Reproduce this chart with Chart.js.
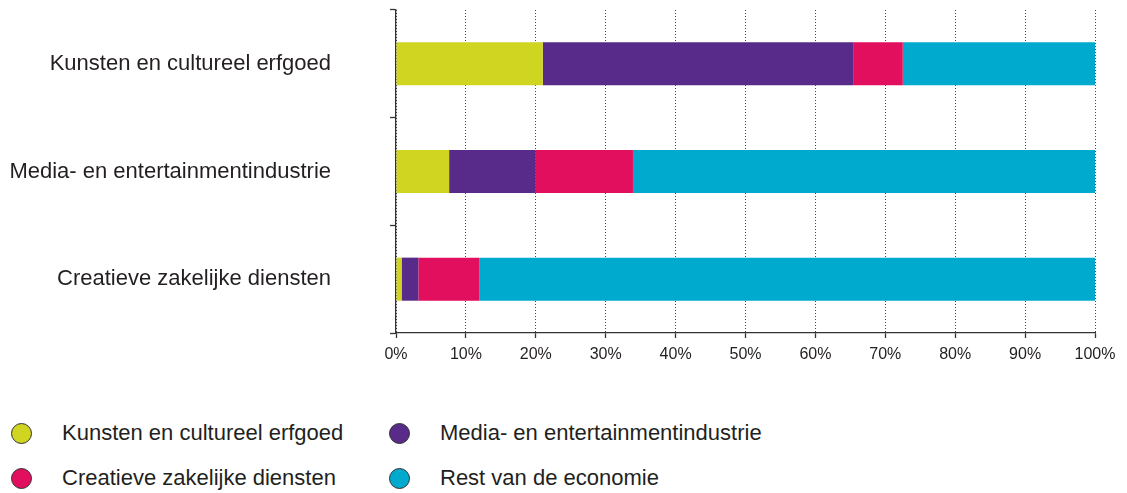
<!DOCTYPE html>
<html>
<head>
<meta charset="utf-8">
<script src="https://cdn.jsdelivr.net/npm/chart.js@4"></script>
<style>
  html, body { margin: 0; padding: 0; background: #fff; }
  body { width: 1127px; height: 493px; position: relative; overflow: hidden; font-family: "Liberation Sans", Arial, sans-serif; color: #231f20; }
  #wrap { position: absolute; left: 0; top: 0; width: 1127px; height: 400px; }
  .legend-item { position: absolute; display: flex; align-items: center; font-size: 22px; }
  .legend-item .dot { width: 21px; height: 21px; border-radius: 50%; border: 1px solid #333; box-sizing: border-box; margin-right: 30px; margin-left: 11px; }
</style>
</head>
<body>
<div id="wrap"><canvas id="chart"></canvas></div>
<div id="legend"></div>
<script>
// Categories and series (percentages per row)
const categories = ['Kunsten en cultureel erfgoed', 'Media- en entertainmentindustrie', 'Creatieve zakelijke diensten'];
const seriesNames = ['Kunsten en cultureel erfgoed', 'Media- en entertainmentindustrie', 'Creatieve zakelijke diensten', 'Rest van de economie'];
const kunsten = [21.0, 7.6, 0.8];
const media = [44.4, 12.4, 2.4];
const creatief = [7.1, 13.9, 8.7];
const rest = [27.5, 66.1, 88.1];
const colors = ['#cfd520', '#582a8a', '#e20e5e', '#00a9ce'];
const xTicks = [0, 10, 20, 30, 40, 50, 60, 70, 80, 90, 100];

const seriesValues = [kunsten, media, creatief, rest];
const fontFamily = '"Liberation Sans", Arial, sans-serif';

const ctx = document.getElementById('chart').getContext('2d');
new Chart(ctx, {
    type: 'bar',
    data: {
        labels: categories,
        datasets: seriesNames.map((name, i) => ({
            label: name,
            data: seriesValues[i],
            backgroundColor: colors[i],
            borderWidth: 0,
            categoryPercentage: 1,
            barPercentage: 0.4
        }))
    },
    options: {
        indexAxis: 'y',
        responsive: true,
        maintainAspectRatio: false,
        animation: false,
        layout: { padding: { top: 10, right: 32, left: 0, bottom: 0 } },
        plugins: {
            legend: { display: false },
            tooltip: { enabled: false }
        },
        scales: {
            x: {
                stacked: true,
                min: 0,
                max: 100,
                afterBuildTicks: (s) => { s.ticks = xTicks.map(v => ({ value: v })); },
                afterFit: (s) => { s.height = 67; },
                ticks: {
                    callback: (v) => v + '%',
                    color: '#231f20',
                    font: { family: fontFamily, size: 16 },
                    padding: 7,
                    maxRotation: 0
                },
                grid: { color: '#444', lineWidth: 1, drawTicks: true, tickLength: 5, tickColor: '#333', tickWidth: 1.3 },
                border: { display: true, color: '#333', width: 1.3, dash: [1, 2] }
            },
            y: {
                stacked: true,
                afterFit: (s) => { s.width = 396; s.paddingTop = 0; s.paddingBottom = 0; },
                ticks: {
                    color: '#231f20',
                    font: { family: fontFamily, size: 22 },
                    padding: 59
                },
                grid: { offset: true, drawOnChartArea: false, tickLength: 6, tickColor: '#333', tickWidth: 1.3 },
                border: { display: true, color: '#333', width: 1.3 }
            }
        }
    }
});

// HTML legend in two columns
const legendPos = [[0, 433], [378, 433], [0, 478], [378, 478]];
const legend = document.getElementById('legend');
seriesNames.forEach((name, i) => {
    const item = document.createElement('div');
    item.className = 'legend-item';
    item.style.left = legendPos[i][0] + 'px';
    item.style.top = (legendPos[i][1] - 12) + 'px';
    item.style.height = '24px';
    const dot = document.createElement('span');
    dot.className = 'dot';
    dot.style.background = colors[i];
    const txt = document.createElement('span');
    txt.textContent = name;
    item.appendChild(dot);
    item.appendChild(txt);
    legend.appendChild(item);
});
</script>
</body>
</html>
